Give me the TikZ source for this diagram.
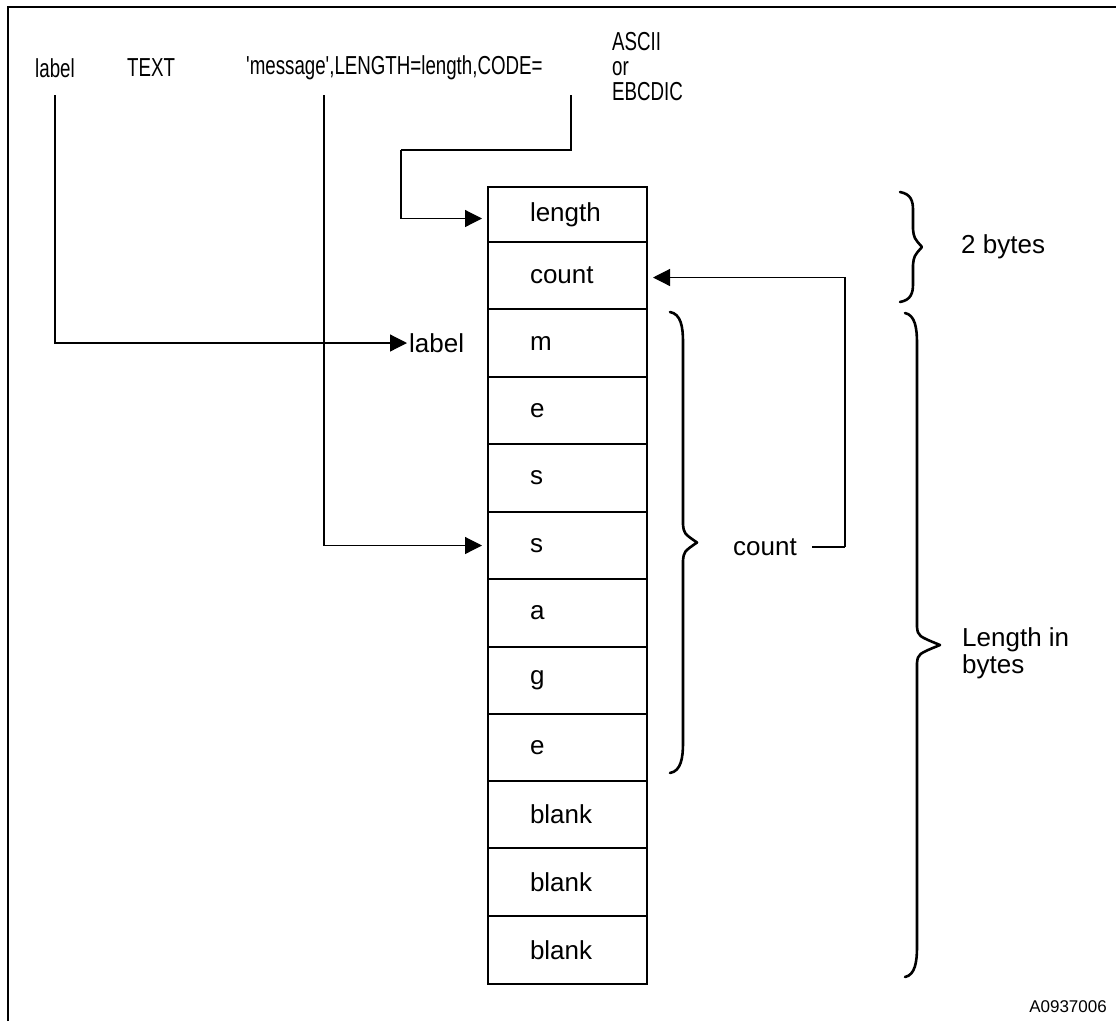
\documentclass[tikz,border=0pt]{standalone}
\usepackage{fontspec}
\setmainfont{Liberation Sans}
\newfontfamily\condfont[FakeStretch=0.72]{Liberation Sans}
\usetikzlibrary{arrows.meta}
\newcommand\MyBrace[6]{%
  \draw[bracestyle] (#5,#2) .. controls ({#1-2},{#2+2}) and (#1,{#2+#6/2}) .. (#1,{#2+#6})
    -- (#1,{(#2+#3)/2-18}) .. controls ({#1+1},{(#2+#3)/2-9}) .. (#4,{(#2+#3)/2})
    .. controls ({#1+1},{(#2+#3)/2+9}) .. (#1,{(#2+#3)/2+18})
    -- (#1,{#3-#6}) .. controls (#1,{#3-#6/2}) and ({#1-2},{#3-2}) .. (#5,#3);}
\begin{document}
\begin{tikzpicture}[x=1pt,y=-1pt,
  cell/.style={draw, line width=2pt, minimum width=159pt, inner sep=0pt,
    text width=75pt, align=left, anchor=north, font=\fontsize{26}{30}\selectfont},
  big/.style={inner sep=0pt, font=\fontsize{26}{30}\selectfont},
  head/.style={inner sep=0pt, font=\condfont\fontsize{26}{25}\selectfont},
  conn/.style={line width=1.2pt},
  arr/.style={conn, -{Triangle[length=17pt,width=17pt]}},
  bracestyle/.style={line width=2.6pt, line cap=round, line join=round}]
\useasboundingbox (0,0) rectangle (1116,1021);
% frame
\draw[line width=1.5pt] (8,1021) -- (8,7) -- (1116,7);
% header
\node[head, anchor=west] (hlabel) at (35,68) {label};
\node[head, anchor=west] (htext) at (127,68) {TEXT};
\node[head, anchor=west] (hop) at (246,68) {'message',LENGTH=length,CODE=};
\node[head, anchor=west, align=left] (hcode) at (612,67) {ASCII\\or\\EBCDIC};
% cells
\node[cell, minimum height=55pt] (c1) at (567.5,186) {length};
\node[cell, minimum height=67pt] (c2) at (567.5,241) {count};
\node[cell, minimum height=68pt] (c3) at (567.5,308) {m};
\node[cell, minimum height=67pt] (c4) at (567.5,376) {e};
\node[cell, minimum height=68pt] (c5) at (567.5,443) {s};
\node[cell, minimum height=67pt] (c6) at (567.5,511) {s};
\node[cell, minimum height=68pt] (c7) at (567.5,578) {a};
\node[cell, minimum height=67pt] (c8) at (567.5,646) {g};
\node[cell, minimum height=67pt] (c9) at (567.5,713) {e};
\node[cell, minimum height=67pt] (c10) at (567.5,780) {blank};
\node[cell, minimum height=68pt] (c11) at (567.5,847) {blank};
\node[cell, minimum height=68pt] (c12) at (567.5,915) {blank};
% side labels
\node[big, anchor=west] (lbl) at (409,343) {label};
\node[big, anchor=west] (cnt) at (733,547) {count};
\node[big, anchor=west] (two) at (961,247) {2 bytes};
\node[big, anchor=west, align=left] (lenb) at (962,653) {Length in\\[-3pt]bytes};
\node[inner sep=0pt, font=\fontsize{17}{20}\selectfont, anchor=east] (fig) at (1107,1007) {A0937006};
% connector coordinates
\coordinate (lbltop) at (55,95);
\coordinate (msgtop) at (324,95);
\coordinate (lentop) at (571,95);
\coordinate (lenbend) at (401,150);
\coordinate (cntbend) at (845,547);
% connectors
\draw[arr, shorten >=2pt] (lbltop) |- (lbl.west);
\draw[arr, shorten >=5pt] (msgtop) |- (c6.west);
\draw[conn] (lentop) |- (lenbend);
\draw[arr, shorten >=5pt] (lenbend) |- ([yshift=-4pt]c1.west);
\draw[conn] ([xshift=15pt]cnt.east) -- (cntbend);
\draw[arr, shorten >=5pt] (cntbend) |- ([yshift=-2pt]c2.east);
% braces
\MyBrace{913}{192}{302}{922}{900}{18}
\MyBrace{683}{312}{773}{697}{670}{30}
\MyBrace{917}{313}{977}{940}{905}{30}
\end{tikzpicture}
\end{document}
